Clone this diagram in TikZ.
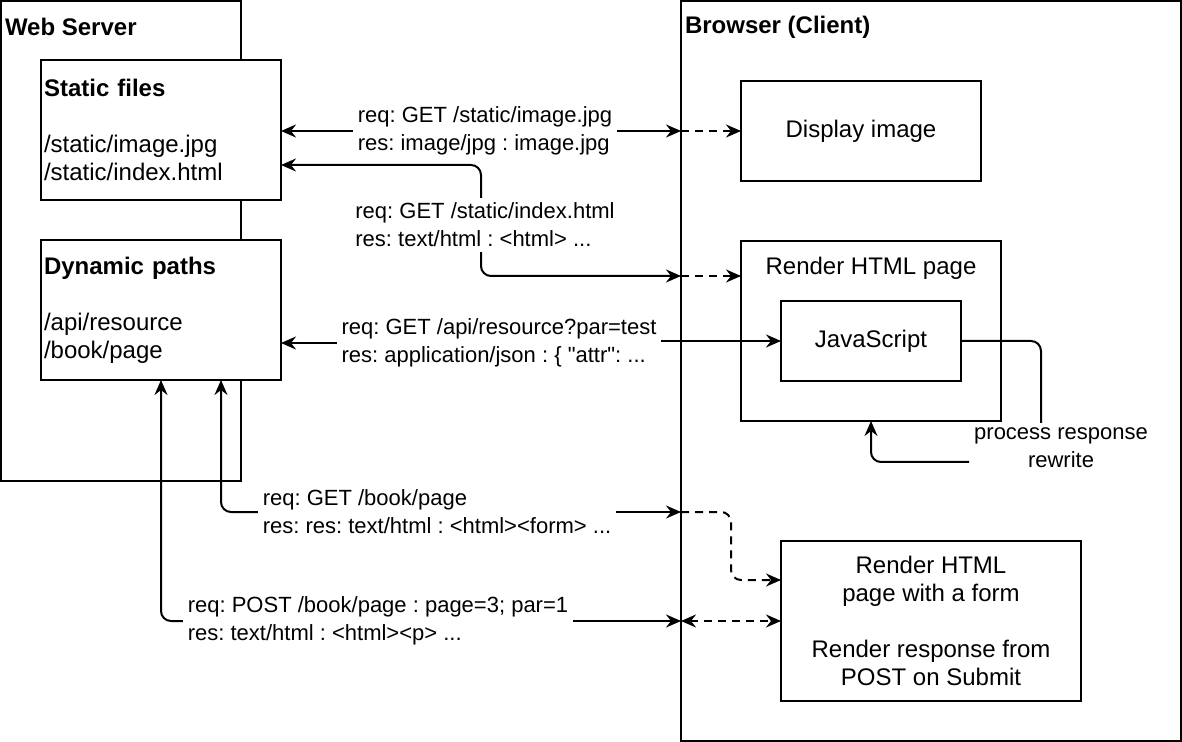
\documentclass[tikz,border=0pt]{standalone}
\usepackage{fontspec}
\setmainfont{Liberation Sans}[Ligatures=TeXOff]
\usetikzlibrary{arrows.meta}

\begin{document}
\frenchspacing
\begin{tikzpicture}[x=0.5pt, y=-0.5pt, line width=1pt,
    >={Stealth[length=7.5pt, width=6.5pt, inset=2.5pt]},
    box/.style = {draw, fill=white, inner sep=1.5pt, outer sep=0pt,
      font=\fontsize{12}{14}\selectfont},
    boxtext/.style = {inner sep=0pt, font=\fontsize{12}{14}\selectfont},
    msg/.style = {align=left, inner sep=2pt, font=\fontsize{11}{14}\selectfont},
    conn/.style = {->, rounded corners=5pt},
    dconn/.style = {conn, dash pattern=on 4pt off 3pt}]
  \useasboundingbox (0,0) rectangle (1182,742);
  % server side
  \node[box, minimum width=120pt, minimum height=240pt] (server) at (121,241) {};
  \node[boxtext, anchor=west, font=\fontsize{12}{14}\selectfont\bfseries] (servername) at (4,27) {Web Server};
  \node[box, text width=117pt, minimum height=70pt, align=left] (static) at (161,130)
    {\textbf{Static files}\\[14pt]/static/image.jpg\\/static/index.html};
  \node[box, text width=117pt, minimum height=70pt, align=left] (dynamic) at (161,310)
    {\textbf{Dynamic paths}\\[14pt]/api/resource\\/book/page};
  % client side
  \node[box, minimum width=250pt, minimum height=370pt] (browser) at (931,371) {};
  \node[boxtext, anchor=west, font=\fontsize{12}{14}\selectfont\bfseries] (browsername) at (684,27) {Browser (Client)};
  \node[box, minimum width=120pt, minimum height=50pt] (display) at (861,131) {Display image};
  \node[box, minimum width=130pt, minimum height=90pt] (page) at (871,331) {};
  \node[boxtext] (pagename) at (871,268) {Render HTML page};
  \node[box, minimum width=90pt, minimum height=40pt] (js) at (871,341) {JavaScript};
  \node[box, minimum width=150pt, minimum height=80pt, align=center] (form) at (931,621)
    {Render HTML\\page with a form\\[14pt]Render response from\\POST on Submit};
  % messages
  \node[msg] (imglbl) at (485,131) {req: GET /static/image.jpg\\res: image/jpg : image.jpg};
  \node[msg] (idxlbl) at (485,225) {req: GET /static/index.html\\res: text/html : <html> ...};
  \node[msg] (apilbl) at (499,343) {req: GET /api/resource?par=test\\res: application/json : \{ "attr": ...};
  \node[msg] (getlbl) at (437,512) {req: GET /book/page\\res: res: text/html : <html><form> ...};
  \node[msg] (postlbl) at (378,621) {req: POST /book/page : page=3; par=1\\res: text/html : <html><p> ...};
  \node[msg, align=center] (prlbl) at (1061,448) {process response\\rewrite};

  \coordinate (b1) at (browser.west |- imglbl.west);
  \draw[conn, <-] (static.east |- imglbl.west) -- (imglbl.west);
  \draw[conn] (imglbl.east) -- (b1);
  \draw[dconn] (b1) -- (display.west);

  \coordinate (b2) at (681,276);
  \draw[conn, <-] ([yshift=-17.5pt]static.east) -| ([xshift=-2pt]idxlbl.north);
  \draw[conn] ([xshift=-2pt]idxlbl.south) |- (b2);
  \draw[dconn] (b2) -- (page.west |- b2);

  \draw[conn, <-] (dynamic.east |- apilbl.west) -- (apilbl.west);
  \draw[conn] (apilbl.east |- js.west) -- (js.west);
  \draw[conn, -] (js.east) -| ([xshift=-10pt]prlbl.north);
  \draw[conn] ([yshift=-7pt]prlbl.west) -| (page.south);

  \coordinate (b4) at (browser.west |- getlbl.east);
  \draw[conn, <-] ([xshift=30pt]dynamic.south) |- (getlbl.west);
  \draw[conn] (getlbl.east) -- (b4);
  \coordinate (fbend) at (731,580);
  \draw[dconn] (b4) -| (fbend) -- (form.west |- fbend);

  \coordinate (b5) at (browser.west |- form.west);
  \draw[conn, <-] (dynamic.south) |- (postlbl.west);
  \draw[conn] (postlbl.east) -- (b5);
  \draw[dconn, <->] (b5) -- (form.west);
\end{tikzpicture}
\end{document}
